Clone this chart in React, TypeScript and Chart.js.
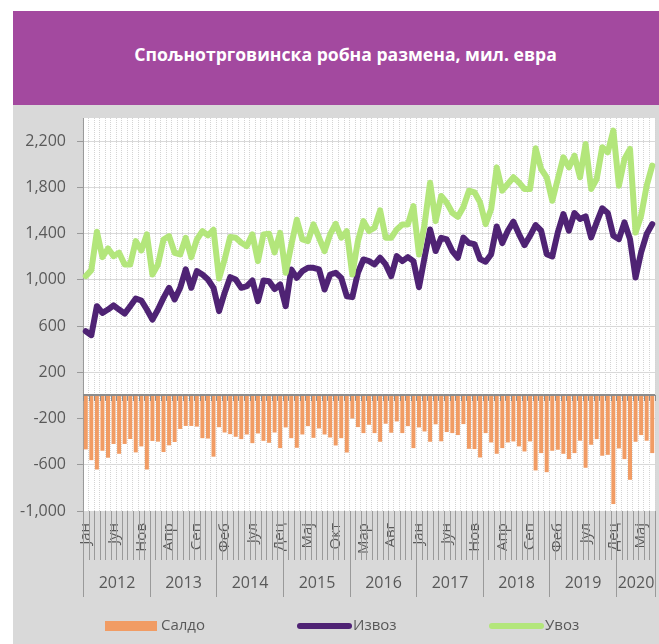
import React, { useEffect, useRef } from 'react';
import { Chart, registerables } from 'chart.js';

Chart.register(...registerables);

const TITLE = 'Спољнотрговинска робна размена, мил. евра';
const monthNames = ['Јан', 'Феб', 'Мар', 'Апр', 'Мај', 'Јун', 'Јул', 'Авг', 'Сеп', 'Окт', 'Нов', 'Дец'];
const years = ['2012', '2013', '2014', '2015', '2016', '2017', '2018', '2019', '2020'];
const yTicks = [-1000, -600, -200, 200, 600, 1000, 1400, 1800, 2200];
const seriesNames = ['Салдо', 'Извоз', 'Увоз'];

// Јан 2012 – Јул 2020, млн. евра
const saldo = [
  -467, -560, -641, -479, -539, -420, -505, -420, -377, -493, -441, -641,
  -394, -400, -490, -432, -403, -290, -264, -264, -270, -370, -373, -530,
  -275, -321, -335, -358, -378, -338, -413, -329, -393, -410, -321, -456,
  -277, -370, -453, -338, -266, -367, -286, -338, -364, -433, -370, -494,
  -199, -274, -326, -254, -326, -401, -245, -323, -225, -326, -266, -456,
  -277, -312, -401, -250, -397, -317, -326, -343, -248, -462, -464, -537,
  -326, -407, -505, -456, -407, -398, -441, -485, -398, -649, -499, -664,
  -479, -470, -505, -551, -499, -392, -626, -427, -378, -522, -514, -940,
  -459, -551, -730, -401, -343, -392, -499,
];

const izvoz = [
  555, 521, 772, 714, 743, 780, 743, 708, 772, 838, 821, 743,
  656, 743, 844, 931, 830, 931, 1090, 931, 1075, 1046, 1003, 931,
  729, 887, 1023, 1003, 931, 945, 994, 815, 994, 988, 920, 960,
  772, 1090, 1017, 1075, 1104, 1104, 1090, 916, 1046, 1061, 1017, 858,
  850, 1061, 1176, 1162, 1133, 1191, 1133, 1032, 1205, 1162, 1196, 1162,
  936, 1191, 1436, 1249, 1364, 1349, 1249, 1191, 1365, 1318, 1309, 1179,
  1156, 1222, 1462, 1318, 1425, 1503, 1396, 1300, 1381, 1474, 1425, 1222,
  1202, 1410, 1569, 1425, 1578, 1526, 1549, 1367, 1497, 1618, 1578, 1381,
  1352, 1497, 1352, 1020, 1237, 1396, 1482,
];

const uvoz = [
  1032, 1084, 1416, 1196, 1271, 1205, 1234, 1133, 1133, 1335, 1254, 1393,
  1046, 1133, 1349, 1378, 1234, 1219, 1364, 1196, 1349, 1422, 1384, 1433,
  1012, 1176, 1370, 1364, 1321, 1292, 1393, 1162, 1393, 1399, 1237, 1407,
  1061, 1300, 1520, 1349, 1335, 1479, 1364, 1248, 1393, 1485, 1364, 1420,
  1046, 1335, 1508, 1422, 1451, 1601, 1364, 1364, 1436, 1479, 1479, 1638,
  1219, 1480, 1840, 1508, 1725, 1667, 1580, 1545, 1630, 1771, 1757, 1670,
  1482, 1612, 1973, 1771, 1829, 1887, 1843, 1786, 1786, 2138, 1959, 1887,
  1684, 1872, 2060, 1973, 2074, 1887, 2175, 1786, 1872, 2147, 2103, 2291,
  1814, 2045, 2132, 1410, 1554, 1814, 1988,
];

const categories = izvoz.map((_, i) => `${monthNames[i % 12]} ${years[Math.floor(i / 12)]}`);

const COLORS = {
  saldo: '#F19C64',
  izvoz: '#4F2374',
  uvoz: '#B3E67B',
  text: '#595959',
  axis: '#9a9a9a',
  grid: '#d9d9d9',
};
const FONT = "'Open Sans', 'Noto Sans', sans-serif";

const decorPlugin = {
  id: 'decor',
  beforeDraw(chart: any) {
    const { ctx, chartArea: a } = chart;
    ctx.save();
    ctx.fillStyle = '#ffffff';
    ctx.fillRect(a.left, a.top, a.right - a.left, a.bottom - a.top);
    ctx.restore();
  },
  afterDatasetsDraw(chart: any) {
    const { ctx, chartArea: a, scales } = chart;
    const x = scales.x;
    const y = scales.y;
    const n = chart.data.labels.length;
    const step = x.getPixelForValue(1) - x.getPixelForValue(0);
    const y0 = Math.round(y.getPixelForValue(0));
    ctx.save();
    ctx.strokeStyle = '#8c8c8c';
    ctx.lineWidth = 1;
    ctx.beginPath();
    for (let i = 0; i <= n; i++) {
      const ex = Math.round(x.getPixelForValue(i) - step / 2) + 0.5;
      ctx.moveTo(ex, y0);
      ctx.lineTo(ex, y0 + 6);
    }
    ctx.stroke();
    ctx.lineWidth = 2;
    ctx.beginPath();
    ctx.moveTo(a.left, y0);
    ctx.lineTo(a.right, y0);
    ctx.stroke();
    ctx.restore();
  },
  afterDraw(chart: any) {
    const { ctx, chartArea: a, scales } = chart;
    const x = scales.x;
    const n = chart.data.labels.length;
    const step = x.getPixelForValue(1) - x.getPixelForValue(0);
    const edge = (i: number) => Math.round(x.getPixelForValue(i) - step / 2) + 0.5;
    ctx.save();
    // category separators
    ctx.strokeStyle = COLORS.axis;
    ctx.lineWidth = 1;
    ctx.beginPath();
    for (let i = 0; i <= n; i++) {
      const isYear = i % 12 === 0 || i === n;
      ctx.moveTo(edge(i), a.bottom);
      ctx.lineTo(edge(i), a.bottom + (isYear ? 86 : 49));
    }
    ctx.stroke();
    // year labels
    ctx.fillStyle = COLORS.text;
    ctx.font = `16px ${FONT}`;
    ctx.textAlign = 'center';
    ctx.textBaseline = 'middle';
    years.forEach((yr, k) => {
      const s = k * 12;
      const e = Math.min(s + 12, n);
      if (s >= n) return;
      const cx = (edge(s) + edge(e)) / 2;
      ctx.fillText(yr, cx, a.bottom + 72);
    });
    // legend
    const ly = a.bottom + 115;
    const colors = [COLORS.saldo, COLORS.izvoz, COLORS.uvoz];
    ctx.font = `15px ${FONT}`;
    ctx.textAlign = 'left';
    seriesNames.forEach((name, k) => {
      const lx = a.left + 22 + k * 192;
      if (k === 0) {
        ctx.fillStyle = colors[k];
        ctx.fillRect(lx, ly - 5, 52, 10);
      } else {
        ctx.strokeStyle = colors[k];
        ctx.lineWidth = 6;
        ctx.lineCap = 'round';
        ctx.beginPath();
        ctx.moveTo(lx + 3, ly);
        ctx.lineTo(lx + 52, ly);
        ctx.stroke();
      }
      ctx.fillStyle = COLORS.text;
      ctx.fillText(name, lx + 56, ly);
    });
    ctx.restore();
  },
};

export default function App() {
  const canvasRef = useRef<HTMLCanvasElement | null>(null);

  useEffect(() => {
    if (!canvasRef.current) return;
    Chart.defaults.font.family = FONT;
    const chart = new Chart(canvasRef.current, {
      type: 'bar',
      data: {
        labels: categories,
        datasets: [
          {
            type: 'bar',
            label: seriesNames[0],
            data: saldo,
            backgroundColor: COLORS.saldo,
            barPercentage: 0.72,
            categoryPercentage: 1,
            order: 3,
          },
          {
            type: 'line',
            label: seriesNames[1],
            data: izvoz,
            borderColor: COLORS.izvoz,
            backgroundColor: COLORS.izvoz,
            borderWidth: 6,
            pointRadius: 0,
            tension: 0,
            borderJoinStyle: 'round',
            borderCapStyle: 'round',
            order: 2,
          },
          {
            type: 'line',
            label: seriesNames[2],
            data: uvoz,
            borderColor: COLORS.uvoz,
            backgroundColor: COLORS.uvoz,
            borderWidth: 6,
            pointRadius: 0,
            tension: 0,
            borderJoinStyle: 'round',
            borderCapStyle: 'round',
            order: 1,
          },
        ] as any,
      },
      options: {
        animation: false,
        responsive: false,
        locale: 'en-US',
        layout: { padding: { top: 13, right: 4, left: 0, bottom: 0 } },
        plugins: {
          legend: { display: false },
          title: { display: false },
          tooltip: { enabled: false },
        },
        scales: {
          x: {
            offset: true,
            grid: {
              display: true,
              drawOnChartArea: true,
              drawTicks: false,
              color: '#d4d4d4',
              lineWidth: 1,
              offset: true,
            },
            border: { display: false, dash: [1, 1] },
            ticks: {
              autoSkip: false,
              maxRotation: 90,
              minRotation: 90,
              padding: 12,
              color: COLORS.text,
              font: { size: 15 },
              callback: (_v: any, i: number) => (i % 5 === 0 ? monthNames[i % 12] : ''),
            },
            afterFit: (s: any) => {
              s.height = 133;
              s.paddingLeft = 0;
              s.paddingRight = 0;
            },
          },
          y: {
            min: -1000,
            max: 2400,
            afterBuildTicks: (s: any) => {
              s.ticks = yTicks.map((v) => ({ value: v }));
            },
            afterFit: (s: any) => {
              s.width = 70;
              s.paddingTop = 0;
              s.paddingBottom = 0;
            },
            grid: {
              color: COLORS.grid,
              lineWidth: 1,
              drawTicks: true,
              tickLength: 6,
              tickColor: COLORS.axis,
            },
            border: { display: true, color: COLORS.axis, width: 1 },
            ticks: {
              padding: 11,
              color: COLORS.text,
              font: { size: 16 },
            },
          },
        },
      },
      plugins: [decorPlugin],
    });
    return () => chart.destroy();
  }, []);

  return (
    <div style={{ position: 'absolute', left: 0, top: 0, width: 659, height: 644, background: '#ffffff', overflow: 'hidden' }}>
      <div
        style={{
          position: 'absolute',
          left: 13,
          top: 11,
          width: 646,
          height: 94,
          background: '#A3499F',
          color: '#ffffff',
          fontFamily: FONT,
          fontWeight: 700,
          fontSize: 17.6,
          display: 'flex',
          alignItems: 'center',
          justifyContent: 'center',
          paddingLeft: 19,
          paddingBottom: 9,
          boxSizing: 'border-box',
          whiteSpace: 'nowrap',
        }}
      >
        {TITLE}
      </div>
      <div style={{ position: 'absolute', left: 13, top: 105, width: 646, height: 539, background: '#d9d9d9' }}>
        <canvas ref={canvasRef} width={646} height={539} style={{ display: 'block', width: 646, height: 539 }} />
      </div>
    </div>
  );
}
